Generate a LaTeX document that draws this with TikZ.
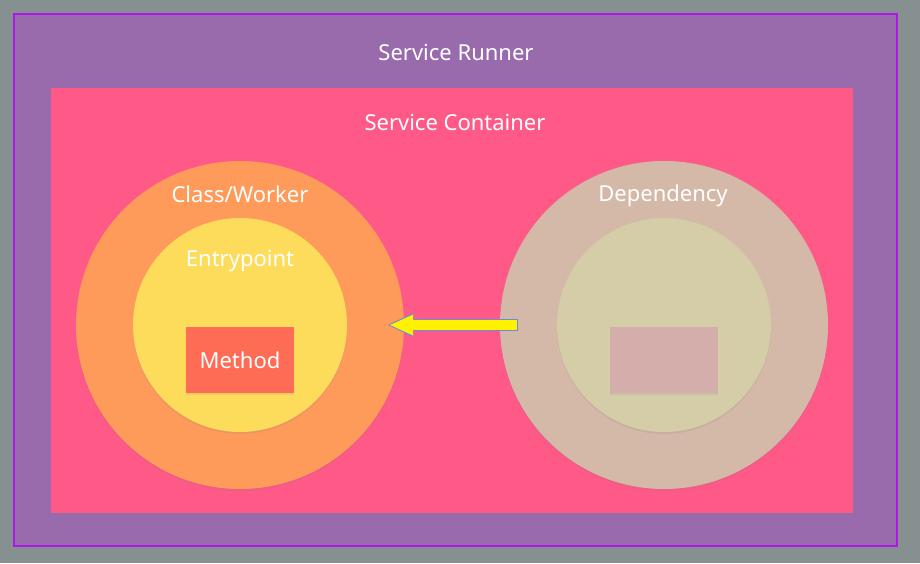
\documentclass[tikz,border=0pt]{standalone}
\usepackage{fontspec}
\setmainfont{Noto Sans}
\usetikzlibrary{arrows.meta, positioning, calc, shadows}
\definecolor{backdrop}{RGB}{135, 144, 144}
\definecolor{runnerFill}{RGB}{153, 107, 172}
\definecolor{runnerLine}{RGB}{178, 22, 230}
\definecolor{containerFill}{RGB}{255, 89, 135}
\definecolor{workerFill}{RGB}{254, 155, 91}
\definecolor{entryFill}{RGB}{253, 220, 92}
\definecolor{methodFill}{RGB}{255, 108, 85}
\definecolor{depOuter}{RGB}{212, 185, 169}
\definecolor{depInner}{RGB}{213, 205, 168}
\definecolor{depBox}{RGB}{212, 174, 170}
\definecolor{arrowLine}{RGB}{110, 140, 220}

\begin{document}
\begin{tikzpicture}[x=1pt, y=-1pt, font=\fontsize{22}{26}\selectfont,
        softshadow/.style={drop shadow={opacity=0.15, shadow xshift=0pt, shadow yshift=-2pt}},
        panel/.style={rectangle, draw=none, inner sep=0pt},
        ring/.style={circle, draw=none, inner sep=0pt, softshadow},
        caption/.style={text=white, inner sep=0pt}
    ]
        \fill[backdrop] (0,0) rectangle (920,563);
        \useasboundingbox (0,0) rectangle (920,563);
        \node[panel, fill=runnerFill, draw=runnerLine, line width=2pt,
              minimum width=883pt, minimum height=532pt] (runner) at (455.5,280) {};
        \node[panel, fill=containerFill, softshadow,
              minimum width=802pt, minimum height=425pt] (container) at (452,300.5) {};
        \node[ring, fill=workerFill, minimum size=328pt] (worker) at (240,325) {};
        \node[ring, fill=entryFill, minimum size=214pt] (entry) at (240,325) {};
        \node[panel, fill=methodFill, softshadow, minimum width=108pt, minimum height=66pt] (method) at (240,360) {};
        \node[ring, fill=depOuter, minimum size=328pt] (dep) at (664,325) {};
        \node[ring, fill=depInner, minimum size=214pt] (depcore) at (664,325) {};
        \node[panel, fill=depBox, softshadow, minimum width=108pt, minimum height=66pt] (depbox) at (664,360) {};
        % labels
        \node[caption] (runnerlbl) at (456,52) {Service Runner};
        \node[caption] (containerlbl) at (455,122) {Service Container};
        \node[caption] (workerlbl) at (240,194) {Class/Worker};
        \node[caption] (entrylbl) at (240,261) {Entrypoint};
        \node[caption] (methodlbl) at (method) {Method};
        \node[caption] (deplbl) at (663,196) {Dependency};
        % injection arrow
        \draw[arrowLine, line width=12pt, shorten <=-18pt, shorten >=-17pt,
              -{Triangle[length=26pt, width=22pt]}] (dep.west) -- (worker.east);
        \draw[yellow, line width=10pt, shorten <=-17pt, shorten >=-15pt,
              -{Triangle[length=24pt, width=19pt]}] (dep.west) -- (worker.east);
    \end{tikzpicture}
\end{document}
